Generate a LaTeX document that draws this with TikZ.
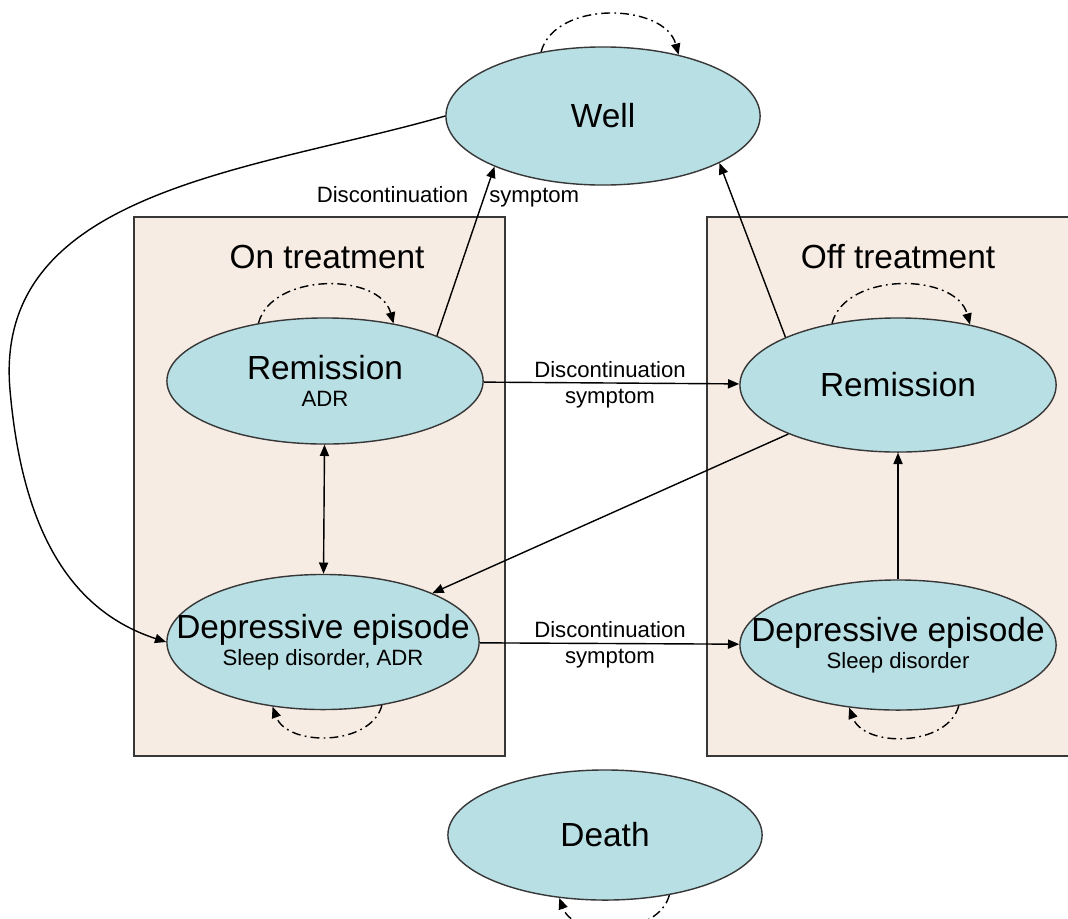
\documentclass[tikz,border=0pt]{standalone}
\usepackage{fontspec}
\setmainfont{Liberation Sans}
\usepackage{tikz}
\usetikzlibrary{shapes.geometric,arrows.meta}
\definecolor{boxfill}{RGB}{247,236,227}
\definecolor{statefill}{RGB}{184,223,227}
\definecolor{edge}{RGB}{55,55,55}
\newcommand{\bigtxt}{\fontsize{9.5}{11}\selectfont}
\newcommand{\smalltxt}{\fontsize{6.3}{7.5}\selectfont}
\newcommand{\statetxt}[2]{\makebox[0pt]{\bigtxt #1}\\[-3.5pt]\makebox[0pt]{\smalltxt #2}}

\begin{document}
\begin{tikzpicture}[x=0.01cm,y=0.01cm,>={Triangle[length=3.2pt,width=2.6pt]},
		state/.style={ellipse,draw=edge,line width=0.4pt,fill=statefill,inner sep=0pt,align=center,font=\bigtxt},
		arr/.style={->,line width=0.4pt},
		selfloop/.style={->,line width=0.4pt,dash pattern=on 2.5pt off 1.2pt on 0.5pt off 1.2pt}]
			\useasboundingbox (0,0) rectangle (1068,-918);
			% treatment boxes
			\draw[edge,fill=boxfill,line width=0.5pt] (134,-217) rectangle (505,-756);
			\draw[edge,fill=boxfill,line width=0.5pt] (707,-217) rectangle (1080,-756);
			\node[font=\bigtxt] (ontxt) at (327,-257) {On treatment};
			\node[font=\bigtxt] (offtxt) at (898,-257) {Off treatment};
			
			% states
			\node[state,minimum width=3.14cm,minimum height=1.38cm] (well) at (603,-116) {Well};
			\node[state,minimum width=3.16cm,minimum height=1.26cm] (remon) at (325,-381) {\statetxt{Remission}{ADR}};
			\node[state,minimum width=3.16cm,minimum height=1.34cm] (remoff) at (898,-385) {Remission};
			\node[state,minimum width=3.12cm,minimum height=1.35cm] (depon) at (323,-642) {\statetxt{Depressive episode}{Sleep disorder, ADR}};
			\node[state,minimum width=3.16cm,minimum height=1.30cm] (depoff) at (898,-645) {\statetxt{Depressive episode}{Sleep disorder}};
			\node[state,minimum width=3.14cm,minimum height=1.30cm] (death) at (605,-835) {Death};
			
			% self loops
			\foreach \n/\a/\b in {well/134/39,remon/139/40,remoff/137/40}{
				\draw[selfloop] (\n.\a) to[out=75,in=105] (\n.\b);
			}
			\foreach \n/\a/\b in {depon/-47/-128,depoff/-45/-128,death/-43/-126}{
				\draw[selfloop] (\n.\a) to[out=-105,in=-70] (\n.\b);
			}
			
			% transitions
			\draw[arr] (remon.22) -- (well.205);
			\node[font=\smalltxt] (lblwell) at (448,-197) {Discontinuation\hspace{6pt}symptom};
			\draw[arr] (remoff.157) -- (well.338);
			\draw[arr] (remon) -- (remoff);
			\node[font=\smalltxt,align=center] (lblrem) at (610,-385) {Discontinuation\\symptom};
			\draw[<->,line width=0.4pt] (remon) -- (depon);
			\draw[arr] (remoff) -- (depon);
			\draw[arr] (depon) -- (depoff);
			\node[font=\smalltxt,align=center] (lbldep) at (610,-645) {Discontinuation\\symptom};
			\draw[arr] (depoff) -- (remoff);
			\coordinate (bend) at (10,-390);
			\draw[arr] (well.west) to[out=196,in=95] (bend) to[out=-85,in=162] (depon.west);
		\end{tikzpicture}
\end{document}
